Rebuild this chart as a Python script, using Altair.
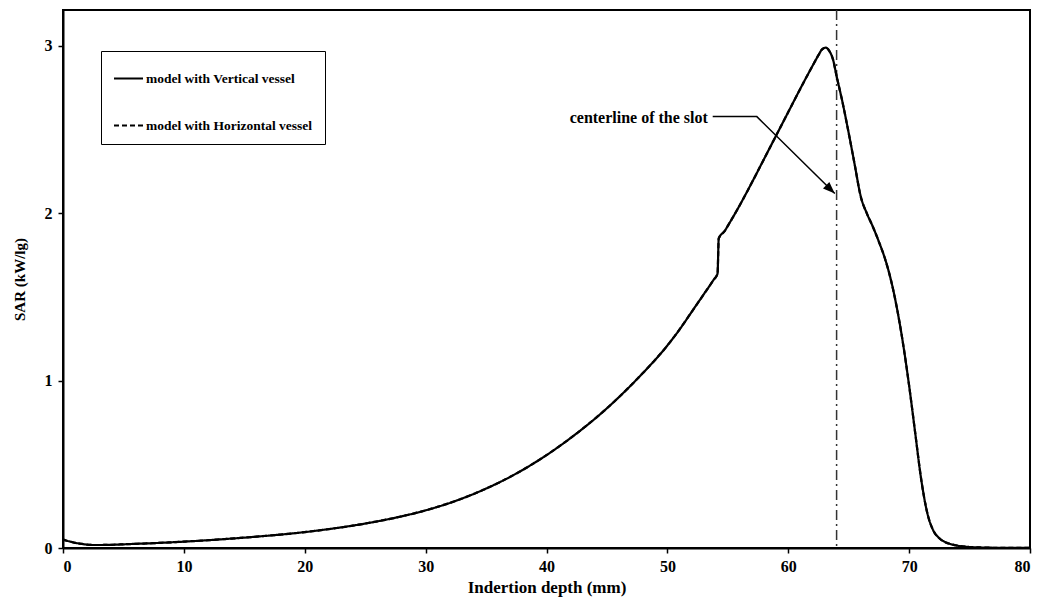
import altair as alt
import pandas as pd

# ---- data ----
depth = [0, 0.5, 1, 1.5, 2, 2.5, 3, 4, 5, 7.5, 10, 12.5, 15, 17.5, 20, 22.5, 25, 27.5,
         30, 32.5, 35, 37.5, 40, 42.5, 45, 47.5, 50, 51, 52, 53, 53.8, 54.15, 54.25, 54.75,
         55, 56, 57, 58, 59, 60, 61, 62, 62.5, 62.8, 63.1, 63.4, 63.7, 64, 64.5, 65, 65.5,
         66, 66.5, 67, 67.5, 68, 68.5, 69, 69.5, 70, 70.5, 71, 71.5, 72, 72.5, 73, 73.5, 74,
         75, 76, 77, 78, 80]
sar_vertical = [0.050, 0.040, 0.031, 0.025, 0.020, 0.018, 0.018, 0.019, 0.022, 0.029, 0.038,
                0.049, 0.062, 0.077, 0.095, 0.118, 0.146, 0.181, 0.225, 0.282, 0.355, 0.445,
                0.555, 0.685, 0.835, 1.010, 1.210, 1.305, 1.410, 1.515, 1.600, 1.640, 1.850,
                1.895, 1.925, 2.050, 2.185, 2.325, 2.465, 2.605, 2.745, 2.880, 2.945, 2.980,
                2.990, 2.970, 2.920, 2.820, 2.660, 2.480, 2.290, 2.100, 2.000, 1.920, 1.830,
                1.730, 1.600, 1.430, 1.220, 0.970, 0.690, 0.410, 0.210, 0.105, 0.058, 0.035,
                0.022, 0.014, 0.006, 0.003, 0.0015, 0.0008, 0.0003]
sar_horizontal = list(sar_vertical)  # curves coincide in the reference

series_names = ["model with Vertical vessel", "model with Horizontal vessel"]
x_ticks = [0, 10, 20, 30, 40, 50, 60, 70, 80]
y_ticks = [0, 1, 2, 3]

centerline_x = [64]
label_text = ["centerline of the slot"]
label_x = [53.35]
label_y = [2.572]
leader_x = [53.75, 57.4, 63.85]
leader_y = [2.578, 2.578, 2.118]
arrow_x = [63.85]
arrow_y = [2.118]

FONT = "Liberation Serif"

rows = []
for name, vals in zip(series_names, [sar_vertical, sar_horizontal]):
    for d, v in zip(depth, vals):
        rows.append({"depth": d, "sar": v, "series": name})
df = pd.DataFrame(rows)

xs = alt.Scale(domain=[0, 80], nice=False, zero=False)
ys = alt.Scale(domain=[0, 3.215], nice=False)

lines = alt.Chart(df).mark_line(color="black", strokeWidth=2.2, interpolate="monotone").encode(
    x=alt.X("depth:Q", scale=xs,
            axis=alt.Axis(values=x_ticks, format="d", title="Indertion depth (mm)",
                          titleFontSize=17, labelPadding=5, titlePadding=5)),
    y=alt.Y("sar:Q", scale=ys,
            axis=alt.Axis(values=y_ticks, format="d", title="SAR (kW/lg)", titleFontSize=15,
                          labelPadding=6, titlePadding=17)),
    strokeDash=alt.StrokeDash(
        "series:N",
        scale=alt.Scale(domain=series_names, range=[[1, 0], [5, 3]]),
        legend=alt.Legend(title=None, orient="none", legendX=38, legendY=41,
                          strokeColor="black", fillColor="white", padding=12,
                          rowPadding=25, symbolType="stroke", symbolSize=841,
                          symbolStrokeWidth=2, symbolStrokeColor="black",
                          labelFont=FONT, labelFontSize=13.5, labelFontWeight="bold",
                          labelColor="black", labelOffset=2, labelLimit=400),
    ),
)

center_df = pd.DataFrame({"x": centerline_x})
centerline = alt.Chart(center_df).mark_rule(color="#333333", strokeWidth=1.5,
                                            strokeDash=[10, 4, 2, 4]).encode(
    x=alt.X("x:Q", scale=xs)
)

label_df = pd.DataFrame({"x": label_x, "y": label_y, "t": label_text})
label = alt.Chart(label_df).mark_text(align="right", baseline="middle", font=FONT,
                                      fontSize=16, fontWeight="bold", color="black").encode(
    x=alt.X("x:Q", scale=xs), y=alt.Y("y:Q", scale=ys), text="t:N"
)

leader_df = pd.DataFrame({"x": leader_x, "y": leader_y, "o": list(range(len(leader_x)))})
leader = alt.Chart(leader_df).mark_line(color="black", strokeWidth=1.5).encode(
    x=alt.X("x:Q", scale=xs), y=alt.Y("y:Q", scale=ys), order="o:Q"
)

arrow_df = pd.DataFrame({"x": arrow_x, "y": arrow_y})
arrow = alt.Chart(arrow_df).mark_point(shape="M0,0L-0.38,1L0.38,1Z", filled=True, size=576,
                                       angle=134, color="black", opacity=1).encode(
    x=alt.X("x:Q", scale=xs), y=alt.Y("y:Q", scale=ys)
)

chart = alt.layer(centerline, lines, leader, arrow, label).properties(
    width=967, height=538,
    autosize=alt.AutoSizeParams(type="none"),
    padding={"left": 55, "top": 2, "right": 2, "bottom": 51},
).configure_view(
    stroke="black", strokeWidth=2
).configure_axis(
    grid=False, domainColor="black", domainWidth=2, tickColor="black", tickWidth=1.5,
    tickSize=5, labelFont=FONT, labelFontSize=16, labelFontWeight="bold", labelColor="black",
    titleFont=FONT, titleFontWeight="bold", titleColor="black"
)

chart.save("out.html", embed_options={"renderer": "svg", "actions": False})
